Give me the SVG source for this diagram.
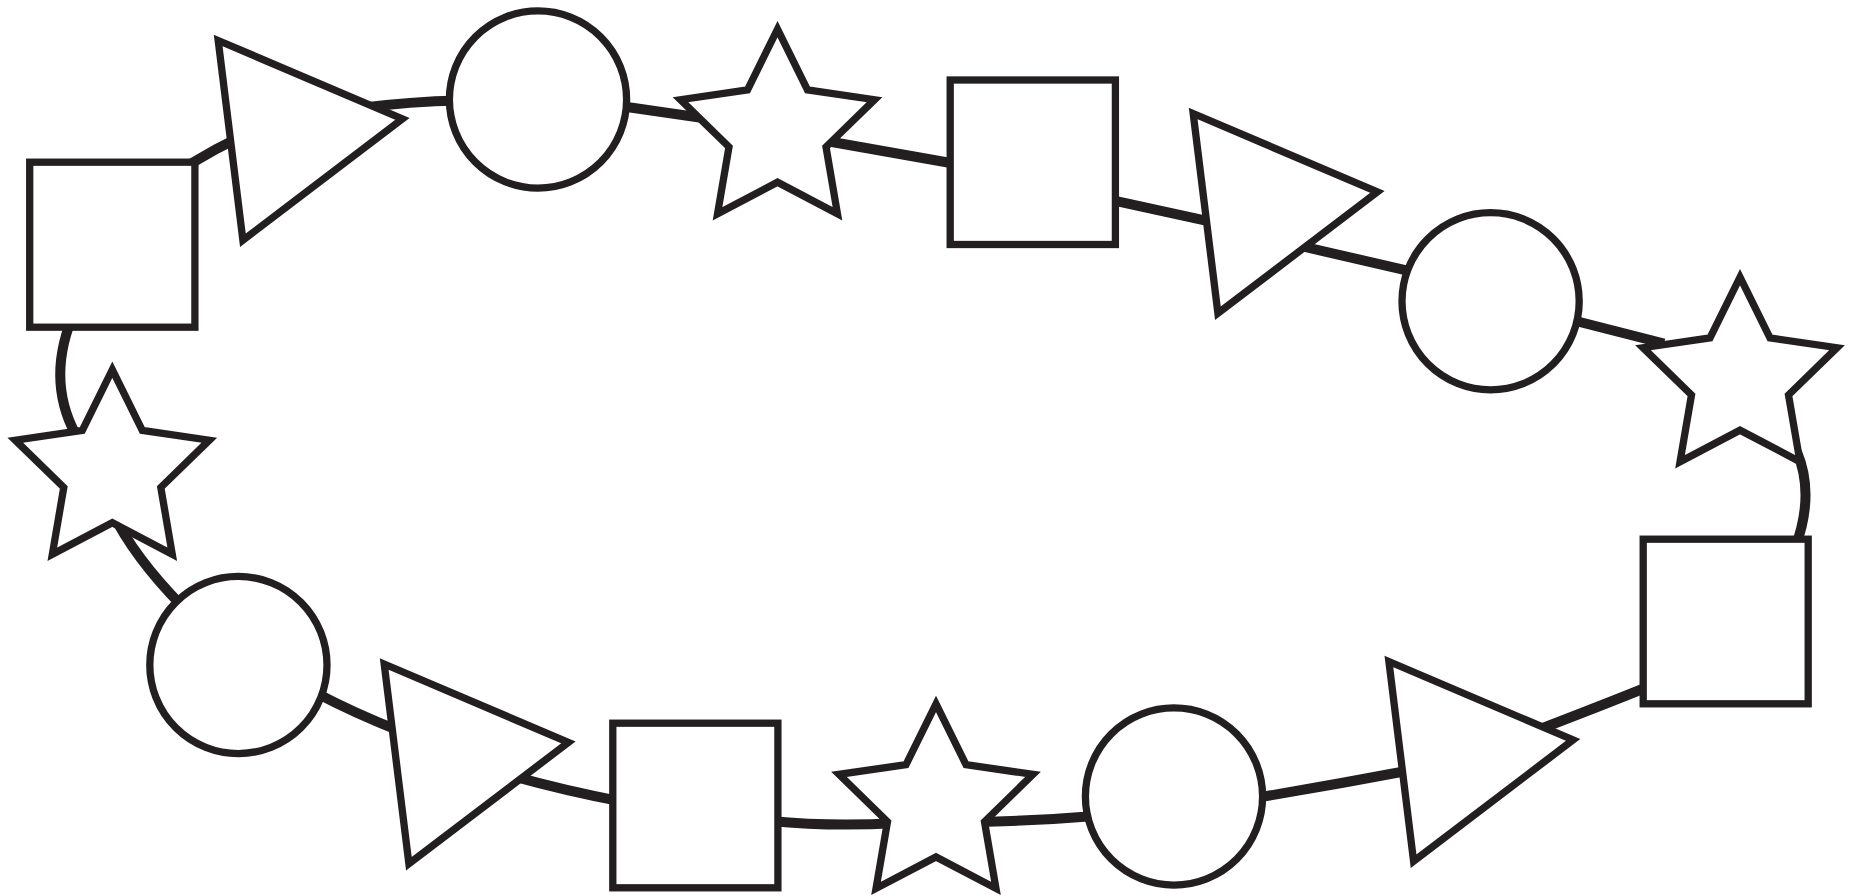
<svg xmlns="http://www.w3.org/2000/svg" xmlns:xlink="http://www.w3.org/1999/xlink" width="1856" height="896" viewBox="0 0 1856 896">
<style>
.shape{fill:#ffffff;stroke:#231f20;stroke-width:7.3;stroke-linejoin:miter;stroke-miterlimit:10}
.conn{fill:none;stroke:#231f20;stroke-width:10;stroke-linecap:butt}
</style>
<defs>
<path id="star" d="M0,-102 L29.98,-41.26 L97.01,-31.52 L48.51,15.76 L59.96,82.52 L0,51 L-59.96,82.52 L-48.51,15.76 L-97.01,-31.52 L-29.98,-41.26 Z"/>
<path id="tri" d="M0,0 L184.2,78.4 L24.7,199.7 Z"/>
</defs>
<rect width="1856" height="896" fill="#ffffff"/>
<g id="connectors">
<path class="conn" d="M192,163 Q215,149 240,137"/>
<path class="conn" d="M360,108 Q410,101.5 460,100.5"/>
<path class="conn" d="M620,106 L710,119"/>
<path class="conn" d="M815,139 L962,165"/>
<path class="conn" d="M1105,198.6 L1215,222.7"/>
<path class="conn" d="M1290,243.5 L1415,272.4"/>
<path class="conn" d="M1570,319.5 L1664,343.5"/>
<path class="conn" d="M1797,452 Q1815,495 1795,548"/>
<path class="conn" d="M1655,684 Q1603,705 1535,731"/>
<path class="conn" d="M1412,770 Q1333,785 1252,798.5"/>
<path class="conn" d="M1095,816 Q1035,821 975,822"/>
<path class="conn" d="M897,823 Q833,827 770,821"/>
<path class="conn" d="M622,801.6 Q566,791 510,775.4"/>
<path class="conn" d="M400,731 Q356,714 315,692.4"/>
<path class="conn" d="M182,606 Q134,557 112,512"/>
<path class="conn" d="M80,442 Q45,385 72,318"/>
</g>
<g id="square1"><rect class="shape" x="29.7" y="162.2" width="165.2" height="165"/></g>
<g id="triangle1"><use href="#tri" class="shape" transform="translate(218.2,40.5)"/></g>
<g id="circle1"><circle class="shape" cx="538" cy="99.5" r="88.6"/></g>
<g id="star1"><use href="#star" class="shape" transform="translate(777.5,131.2)"/></g>
<g id="square2"><rect class="shape" x="950.2" y="80" width="165.2" height="164.5"/></g>
<g id="triangle2"><use href="#tri" class="shape" transform="translate(1193.2,113.5)"/></g>
<g id="circle2"><circle class="shape" cx="1490.6" cy="301.3" r="88.6"/></g>
<g id="star2"><use href="#star" class="shape" transform="translate(1740,379.2)"/></g>
<g id="square3"><rect class="shape" x="1643.2" y="539.2" width="165" height="164.6"/></g>
<g id="triangle4"><use href="#tri" class="shape" transform="translate(1388.9,661.5)"/></g>
<g id="circle4"><circle class="shape" cx="1174" cy="796.5" r="88.6"/></g>
<g id="star4"><use href="#star" class="shape" transform="translate(936,805.9)"/></g>
<g id="square4"><rect class="shape" x="612.8" y="723.2" width="165.1" height="164.6"/></g>
<g id="triangle3"><use href="#tri" class="shape" transform="translate(384.2,664)"/></g>
<g id="circle3"><circle class="shape" cx="238.4" cy="665" r="88.6"/></g>
<g id="star3"><use href="#star" class="shape" transform="translate(112.3,471.7)"/></g>
</svg>
